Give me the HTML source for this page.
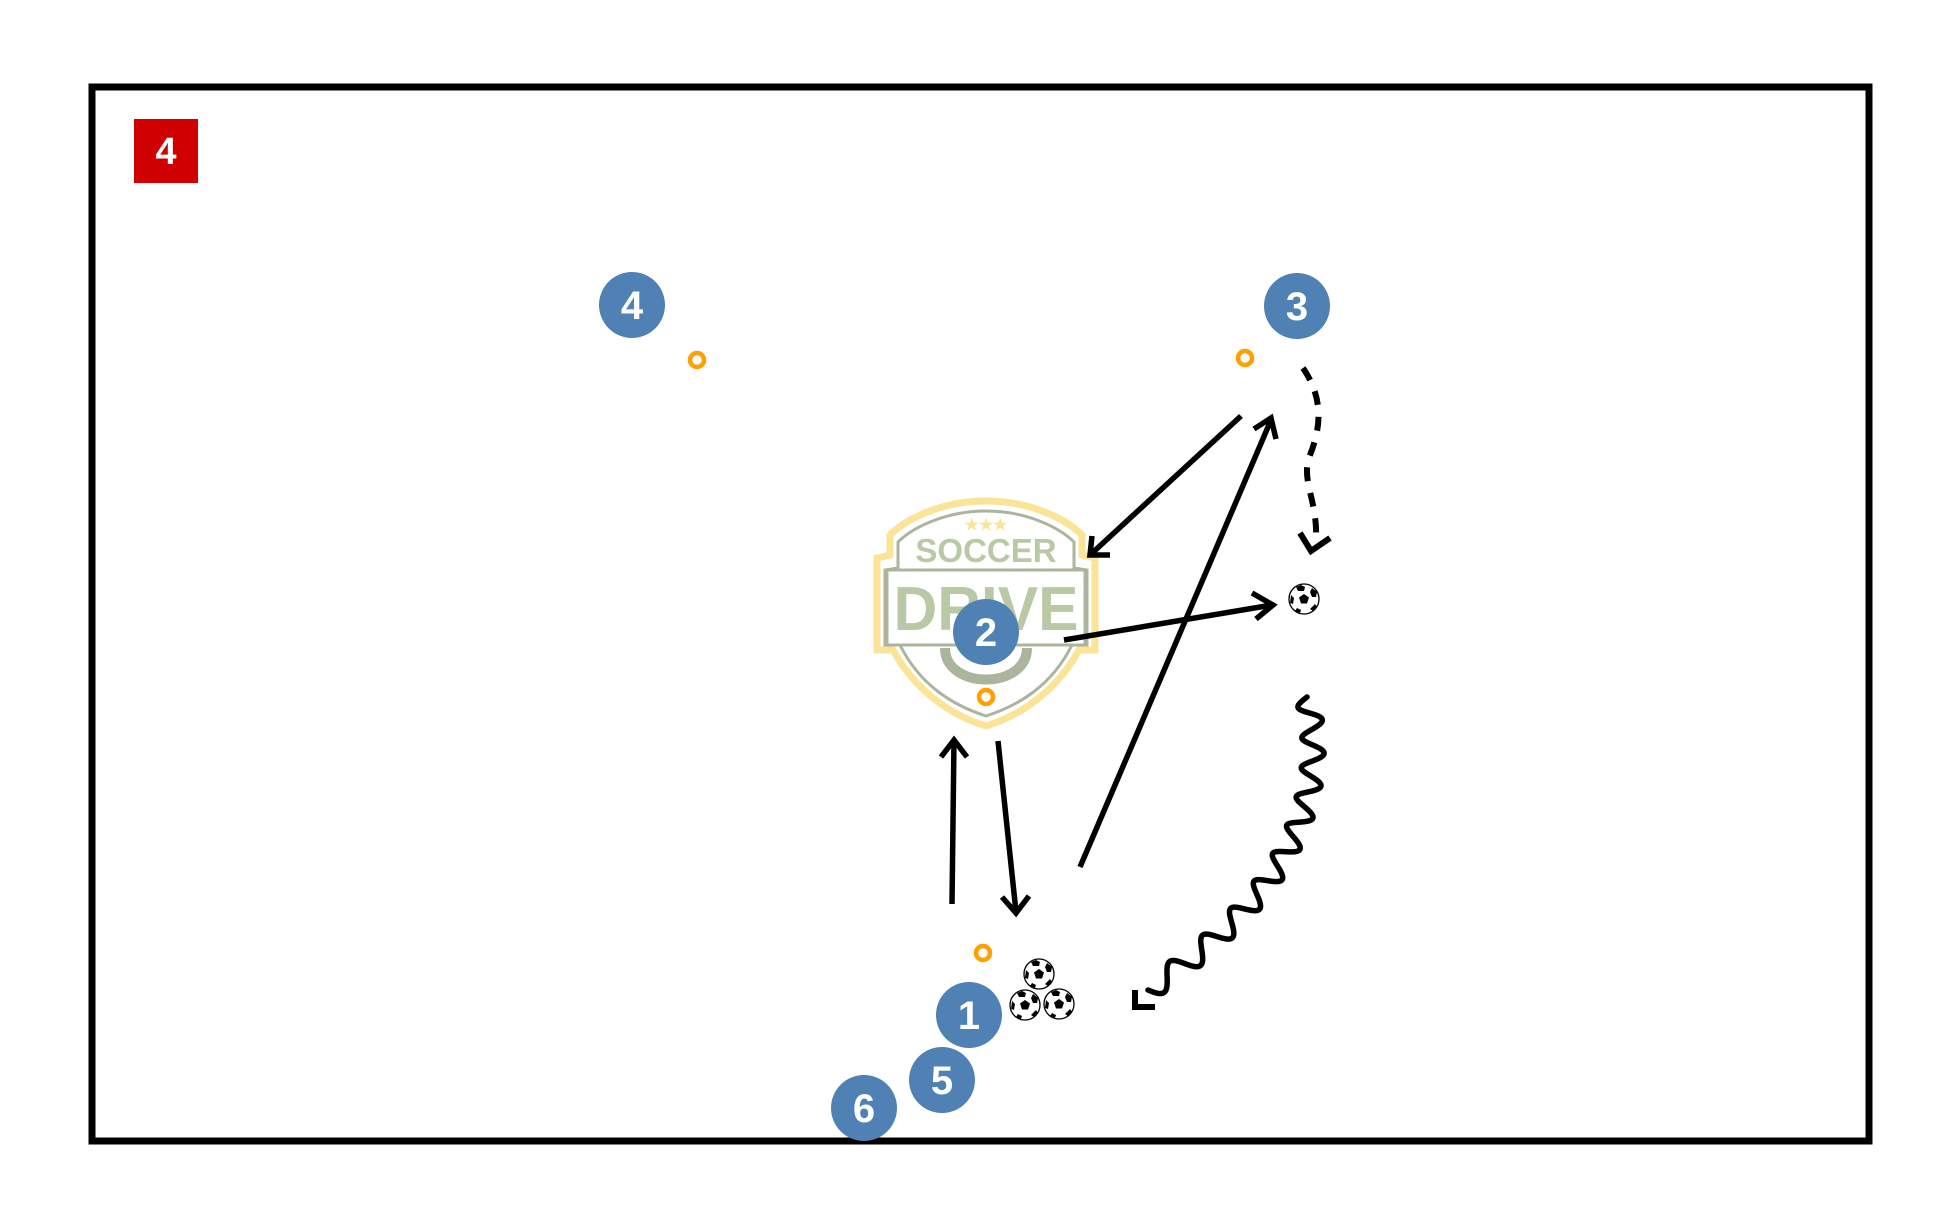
<!DOCTYPE html>
<html><head><meta charset="utf-8"><style>
html,body{margin:0;padding:0;background:#fff;width:1959px;height:1224px;overflow:hidden}
svg{display:block}
text{font-family:"Liberation Sans",sans-serif;font-weight:bold}
</style></head><body>
<svg width="1959" height="1224" viewBox="0 0 1959 1224" xmlns="http://www.w3.org/2000/svg">
<defs>
<g id="ball">
<circle r="15" fill="#fff" stroke="#000" stroke-width="1.3"/>
<polygon points="0,-5 5,-1.5 3,4.5 -3,4.5 -5,-1.5" fill="#000"/>
<path d="M-8,-12 L-3,-14 L1,-12 L0,-8 L-6,-8 Z M8,-11 L13,-7 L12,-2 L8,-2 L6,-7 Z M-13,-4 L-10,-1 L-11,5 L-14,4 Z M11,5 L13,8 L9,12 L6,10 Z M-7,9 L-3,11 L-4,14 L-9,12 Z" fill="#000"/>
</g>
</defs>
<rect x="92" y="87" width="1777" height="1054" fill="none" stroke="#000" stroke-width="7"/>
<rect x="134" y="119" width="64" height="64" fill="#d00000"/>
<text x="166" y="164" font-size="38" fill="#fff" text-anchor="middle">4</text>

<!-- logo -->
<g opacity="0.9">
<path d="M986,501 C940,501 905,520 890,535 L890,555 L877,558 L877,650 L893,650 C915,690 950,715 986,726 C1022,715 1057,690 1079,650 L1095,650 L1095,558 L1082,555 L1082,535 C1067,520 1032,501 986,501 Z" fill="none" stroke="#fbe28d" stroke-width="7"/>
<path d="M986,511 C945,511 912,528 898,542 L898,568 L885,570 L885,645 L900,645 C920,685 952,705 986,716 C1020,705 1052,685 1072,645 L1087,645 L1087,570 L1074,568 L1074,542 C1060,528 1027,511 986,511 Z" fill="none" stroke="#a3ad94" stroke-width="3"/>
<rect x="887" y="570" width="198" height="75" fill="none" stroke="#a3ad94" stroke-width="3"/>
<text x="986" y="562" font-size="33" fill="#b3c49c" text-anchor="middle">SOCCER</text>
<text x="986" y="630" font-size="62" fill="#b3c49c" text-anchor="middle" textLength="185" lengthAdjust="spacingAndGlyphs">DRIVE</text>
<text x="986" y="530" font-size="16" fill="#fbe28d" text-anchor="middle">★★★</text>
<path d="M945,648 C945,690 1027,690 1027,648" fill="none" stroke="#a3ad94" stroke-width="10"/>
</g>

<!-- cones -->
<g fill="none" stroke="#ff9f00" stroke-width="4.5">
<circle cx="697" cy="360" r="7"/>
<circle cx="1245" cy="358" r="7"/>
<circle cx="986" cy="697" r="7"/>
<circle cx="983" cy="953" r="7"/>
</g>

<!-- arrows -->
<g fill="none" stroke="#000" stroke-width="5.5" stroke-linecap="butt">
<line x1="952" y1="904" x2="954" y2="740"/>
<polyline points="941,757 954,740 967,757"/>
<line x1="998" y1="741" x2="1016" y2="912"/>
<polyline points="1002,897 1016,913 1029,896"/>
<line x1="1080" y1="867" x2="1271" y2="420"/>
<polyline points="1254,429 1271,418 1276,439"/>
<line x1="1241" y1="416" x2="1090" y2="555"/>
<polyline points="1092,536 1090,555 1110,555"/>
<line x1="1064" y1="640" x2="1272" y2="605"/>
<polyline points="1252,593 1273,605 1256,619"/>
<path d="M1303,368 C1325,400 1320,430 1310,455 C1300,480 1318,500 1316,540" stroke-dasharray="14,12" stroke-width="6"/>
<polyline points="1300,533 1311,551 1330,538" stroke-width="6"/>
<path id="sq" stroke-width="5.5" stroke-linejoin="round" stroke-linecap="round"/>
<polyline points="1135,990 1135,1007 1155,1007" stroke-width="6"/>
</g>

<!-- balls -->
<use href="#ball" x="1039" y="974"/>
<use href="#ball" x="1025" y="1005"/>
<use href="#ball" x="1059" y="1004"/>
<use href="#ball" x="1304" y="599"/>

<!-- players -->
<g fill="#4f81b4">
<circle cx="632" cy="305" r="33"/>
<circle cx="1297" cy="306" r="33"/>
<circle cx="986" cy="632" r="33"/>
<circle cx="969" cy="1015" r="33"/>
<circle cx="942" cy="1080" r="33"/>
<circle cx="864" cy="1108" r="33"/>
</g>
<g fill="#fff" font-size="40" text-anchor="middle">
<text x="632" y="319">4</text>
<text x="1297" y="320">3</text>
<text x="986" y="646">2</text>
<text x="969" y="1029">1</text>
<text x="942" y="1094">5</text>
<text x="864" y="1122">6</text>
</g>
</svg>
<script>
(function(){
var P0=[1307,697],P1=[1345,860],P2=[1148,990];
function B(t){var u=1-t;return[u*u*P0[0]+2*u*t*P1[0]+t*t*P2[0],u*u*P0[1]+2*u*t*P1[1]+t*t*P2[1]];}
function D(t){var u=1-t;return[2*u*(P1[0]-P0[0])+2*t*(P2[0]-P1[0]),2*u*(P1[1]-P0[1])+2*t*(P2[1]-P1[1])];}
var d="",N=1500,waves=10;
for(var i=0;i<=N;i++){var t=i/N,p=B(t),v=D(t),l=Math.hypot(v[0],v[1]);var nx=-v[1]/l,ny=v[0]/l;var a=11*Math.sin(t*waves*2*Math.PI);
d+=(i?"L":"M")+(p[0]+nx*a).toFixed(2)+","+(p[1]+ny*a).toFixed(2);}
document.getElementById("sq").setAttribute("d",d);
})();
</script>
</body></html>
